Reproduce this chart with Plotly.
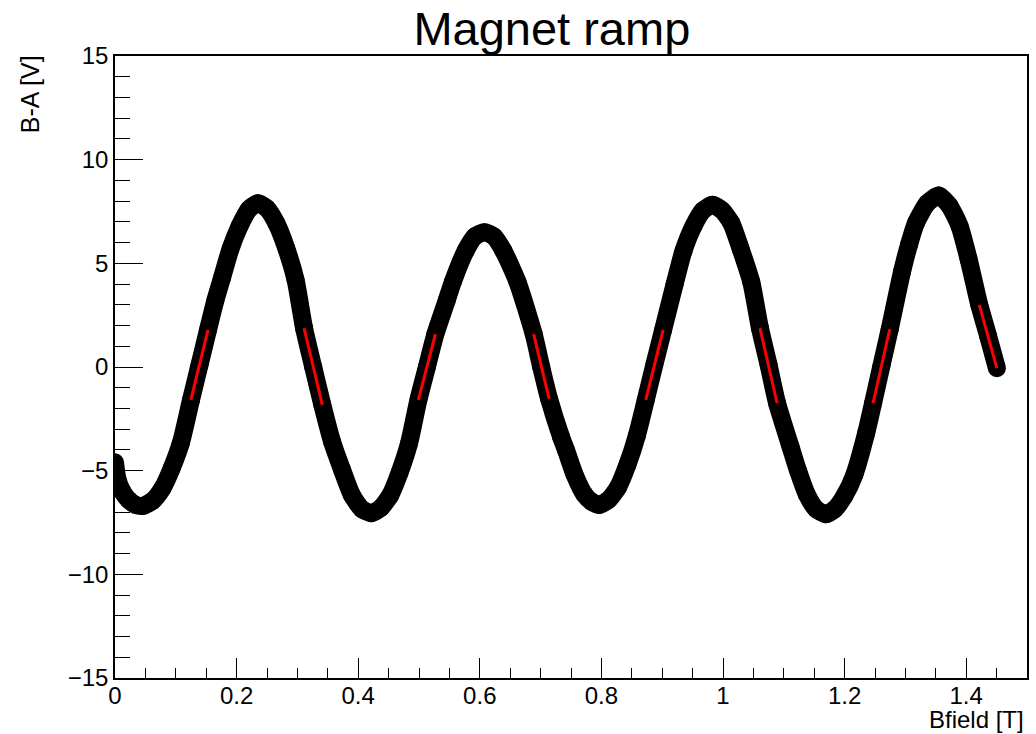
import plotly.graph_objects as go

# Black measured curve: B field [T] vs B-A [V]
bfield = [0.000, 0.004, 0.012, 0.022, 0.034, 0.046, 0.062, 0.078, 0.093, 0.108, 0.125, 0.139,
          0.153, 0.165, 0.176, 0.190, 0.205, 0.220, 0.235, 0.250, 0.266, 0.282, 0.297, 0.311,
          0.326, 0.341, 0.357, 0.374, 0.390, 0.406, 0.4215, 0.437, 0.4525, 0.468, 0.4835, 0.499,
          0.513, 0.527, 0.5455, 0.5556, 0.5766, 0.592, 0.6076, 0.623, 0.639, 0.662, 0.6886, 0.701,
          0.714, 0.7335, 0.7417, 0.756, 0.772, 0.784, 0.7964, 0.812, 0.8274, 0.843, 0.8584, 0.873,
          0.887, 0.9015, 0.9205, 0.935, 0.9515, 0.967, 0.9825, 0.998, 1.0136, 1.029, 1.0465, 1.0608,
          1.075, 1.089, 1.111, 1.124, 1.1379, 1.153, 1.169, 1.184, 1.200, 1.216, 1.2354, 1.2468,
          1.2605, 1.2742, 1.2945, 1.306, 1.3174, 1.336, 1.3547, 1.372, 1.389, 1.404, 1.4215, 1.436,
          1.4505]
ba_volt = [-4.6, -5.4, -6.0, -6.4, -6.65, -6.7, -6.45, -5.85, -4.9, -3.7, -1.59, 0.1,
           1.79, 3.2, 4.3, 5.7, 6.8, 7.6, 7.9, 7.65, 6.9, 5.7, 4.2, 1.87,
           0.0, -1.83, -3.6, -5.0, -6.2, -6.85, -7.05, -6.8, -6.2, -5.1, -3.7, -1.59,
           0.0, 1.59, 3.2, 4.1, 5.6, 6.3, 6.5, 6.3, 5.6, 4.1, 1.59, 0.0,
           -1.54, -3.36, -4.0, -5.2, -6.15, -6.5, -6.65, -6.4, -5.8, -4.7, -3.3, -1.59,
           0.1, 1.79, 4.0, 5.6, 6.8, 7.55, 7.82, 7.57, 6.95, 5.7, 4.1, 1.87,
           0.1, -1.75, -3.84, -5.05, -6.15, -6.85, -7.1, -6.85, -6.2, -5.2, -3.2, -1.75,
           0.05, 1.82, 4.6, 5.9, 6.95, 7.9, 8.27, 7.8, 6.8, 5.2, 3.0, 1.5,
           -0.06]

# Red linear fits around the zero crossings (start/end points)
fit_x_start = [0.1248, 0.311, 0.499, 0.6886, 0.873, 1.0608, 1.2468, 1.4215]
fit_y_start = [-1.59, 1.87, -1.59, 1.59, -1.59, 1.87, -1.75, 3.0]
fit_x_end = [0.153, 0.341, 0.527, 0.714, 0.9015, 1.089, 1.2742, 1.4505]
fit_y_end = [1.79, -1.83, 1.59, -1.54, 1.79, -1.75, 1.82, -0.06]

FONT = "Liberation Sans, Arial, sans-serif"

fig = go.Figure()
fig.add_trace(go.Scatter(
    x=bfield, y=ba_volt, mode="lines+markers",
    line=dict(color="black", width=18, shape="spline", smoothing=0.6),
    marker=dict(color="black", size=18),
    hoverinfo="skip"))

for xs, ys, xe, ye in zip(fit_x_start, fit_y_start, fit_x_end, fit_y_end):
    fig.add_trace(go.Scatter(x=[xs, xe], y=[ys, ye], mode="lines",
                             line=dict(color="#ff0000", width=3), hoverinfo="skip"))

fig.update_layout(
    width=1036, height=734,
    margin=dict(l=115, r=7, t=56, b=56),
    paper_bgcolor="white", plot_bgcolor="white",
    showlegend=False,
    font=dict(family=FONT, color="black"),
    title=dict(text="Magnet ramp", font=dict(size=47, family=FONT, color="black"),
               xref="paper", x=0.479, xanchor="center",
               yref="container", y=1 - 29 / 734, yanchor="middle"),
    xaxis=dict(range=[0, 1.5], showgrid=False, zeroline=False,
               showline=True, linecolor="black", linewidth=1.5, mirror=True,
               ticks="inside", ticklen=20, tickwidth=1.2, tickcolor="black",
               ticklabelstandoff=-5,
               tick0=0, dtick=0.2, tickfont=dict(size=24, family=FONT, color="black"),
               minor=dict(dtick=0.05, ticks="inside", ticklen=10, tickwidth=1.2,
                          tickcolor="black", showgrid=False)),
    yaxis=dict(range=[-15, 15], showgrid=False, zeroline=False,
               showline=True, linecolor="black", linewidth=1.5, mirror=True,
               ticks="inside", ticklen=28, tickwidth=1.2, tickcolor="black",
               tick0=0, dtick=5, tickfont=dict(size=24, family=FONT, color="black"),
               minor=dict(dtick=1, ticks="inside", ticklen=15, tickwidth=1.2,
                          tickcolor="black", showgrid=False)),
    annotations=[
        dict(text="Bfield [T]", xref="paper", yref="paper", x=0.9985, y=-0.0675,
             xanchor="right", yanchor="middle", showarrow=False,
             font=dict(size=24, family=FONT, color="black")),
        dict(text="B-A [V]", xref="paper", yref="paper", x=-0.093, y=1.0048,
             xanchor="center", yanchor="top", textangle=-90, showarrow=False,
             font=dict(size=25, family=FONT, color="black")),
    ],
)

fig.write_html("out.html")
